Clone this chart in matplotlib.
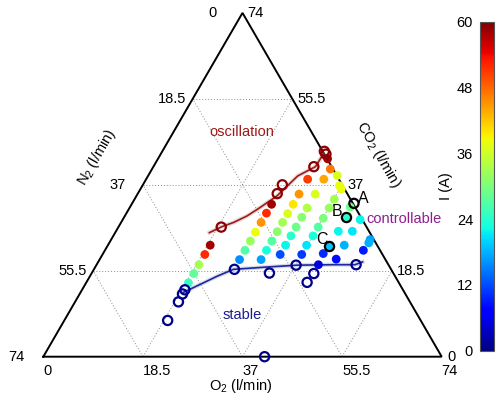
import numpy as np
import matplotlib

matplotlib.use("Agg")
import matplotlib.pyplot as plt

plt.rcParams["font.family"] = ["Liberation Sans", "DejaVu Sans"]
plt.rcParams["mathtext.fontset"] = "custom"
plt.rcParams["mathtext.rm"] = "Liberation Sans"
plt.rcParams["font.size"] = 10.5

TOTAL = 74.0

# operating points: O2 and CO2 flow (l/min), N2 is the rest; colour = current I (A)
o2_pts = [19.0, 19.0, 19.0, 19.0, 19.0,
          26.0, 26.0, 26.0, 26.0, 26.0, 26.0, 26.0,
          30.0, 30.0, 30.0, 30.0, 30.0, 30.0, 30.0, 30.0, 30.0,
          33.0, 33.0, 33.0, 33.0, 33.0, 33.0, 33.0, 33.0,
          37.1, 37.1, 37.1, 37.1, 37.1, 36.9, 37.0,
          41.2, 41.3, 41.2, 40.9, 41.2,
          44.1, 43.9, 43.9, 43.9,
          48.1, 48.2, 48.0,
          31.5, 33.1, 35.1, 36.6, 37.3, 40.9]
co2_pts = [24.0, 22.0, 19.8, 17.9, 15.9,
           32.8, 30.9, 28.9, 26.8, 24.9, 22.9, 20.9,
           38.2, 35.0, 32.8, 30.8, 28.9, 26.9, 24.9, 22.9, 20.9,
           38.2, 35.0, 32.0, 30.0, 27.9, 26.0, 24.0, 22.0,
           33.9, 32.0, 29.8, 27.9, 26.0, 24.0, 22.0,
           30.0, 27.0, 23.9, 22.2, 19.8,
           29.5, 27.0, 24.0, 21.0,
           25.2, 24.5, 22.9,
           42.6, 40.4, 39.0, 36.8, 36.1, 32.2]
current = [58, 52, 33, 28, 25,
           58, 52, 45, 38, 32, 27, 16,
           51, 45, 40, 37, 33, 31, 27, 23, 17,
           44, 37, 34, 31, 29, 24, 22, 12,
           33, 32, 30, 27, 23, 21, 11,
           24, 22, 19, 10, 5,
           22, 21, 18, 8,
           17, 18, 9,
           58, 47, 37, 38, 38, 29]

# boundary measurements (open circles)
osc_o2 = [19.1, 25.9, 25.9, 29.8, 30.1, 30.7]
osc_co2 = [27.9, 35.1, 37.0, 40.9, 44.2, 43.6]
stab_o2 = [19.1, 19.1, 19.2, 19.2, 26.1, 33.0, 37.1, 41.3, 41.0, 48.2, 41.1]
stab_co2 = [13.5, 14.4, 11.8, 7.8, 18.8, 18.0, 19.7, 17.9, 16.0, 19.8, 0.0]

# boundary curves
osc_line_o2 = [17.5, 19.2, 20.9, 22.7, 24.2, 26.1, 27.8, 30.1, 30.2]
osc_line_co2 = [26.7, 28.0, 28.9, 30.3, 32.1, 34.6, 38.9, 40.9, 43.6]
stab_line_o2 = [19.1, 21.8, 23.6, 25.9, 31.9, 37.3, 44.0, 48.0, 49.1]
stab_line_co2 = [13.85, 15.9, 17.3, 18.8, 19.3, 19.7, 19.8, 19.8, 20.4]

# highlighted points A, B, C
abc_labels = ["A", "B", "C"]
abc_o2 = [41.2, 41.2, 41.2]
abc_co2 = [33.0, 30.0, 23.9]
abc_current = [None, 24, 19]

grid_vals = [18.5, 37.0, 55.5]
tick_vals = [0, 18.5, 37, 55.5, 74]
tick_labels = ["0", "18.5", "37", "55.5", "74"]
left_gaps = [0.064, 0.016, 0.044, 0.016, 0.046]


def tern(o2, co2):
    o = np.asarray(o2, dtype=float) / TOTAL
    c = np.asarray(co2, dtype=float) / TOTAL
    return o + c / 2, c * np.sqrt(3) / 2


fig = plt.figure(figsize=(4.97, 4.01), dpi=100)
ax = fig.add_axes([0, 0, 1, 1])
ax.set_xlim(-0.1087, 1.1388)
ax.set_ylim(-0.1116, 0.8985)
ax.axis("off")

# dotted grid
for v in grid_vals:
    for a, b in [((0, v), (TOTAL - v, v)),
                 ((v, 0), (v, TOTAL - v)),
                 ((TOTAL - v, 0), (0, TOTAL - v))]:
        xs, ys = tern([a[0], b[0]], [a[1], b[1]])
        ax.plot(xs, ys, color="#8c8c8c", ls=(0, (1, 2)), lw=0.7, zorder=1)

# triangle
tx, ty = tern([0, TOTAL, 0, 0], [0, 0, TOTAL, 0])
ax.plot(tx, ty, color="k", lw=1.4, zorder=2, solid_joinstyle="miter")

# tick labels
for v, lab, gap in zip(tick_vals, tick_labels, left_gaps):
    # N2 on the left side
    x, y = tern(0, TOTAL - v)
    ax.text(x - gap, y, lab, ha="right", va="center")
    # O2 along the bottom
    x, y = tern(v, 0)
    ax.text(x, y - 0.036, lab, ha="left", va="center")
    # CO2 on the right side
    x, y = tern(TOTAL - v, v)
    ax.text(x + 0.013, y, lab, ha="left", va="center")

ax.text(0.134, 0.502, "N$_2$ (l/min)", rotation=60, ha="center", va="center")
ax.text(0.840, 0.508, "CO$_2$ (l/min)", rotation=-60, ha="center", va="center")
ax.text(0.4957, -0.074, "O$_2$ (l/min)", ha="center", va="center")

# boundary curves
lx, ly = tern(osc_line_o2, osc_line_co2)
ax.plot(lx, ly, color="#c89090", lw=3, alpha=0.35, zorder=3)
ax.plot(lx, ly, color="#9b1c1c", lw=1.2, zorder=3)
lx, ly = tern(stab_line_o2, stab_line_co2)
ax.plot(lx, ly, color="#9098c8", lw=3, alpha=0.35, zorder=3)
ax.plot(lx, ly, color="#1a2a9a", lw=1.2, zorder=3)

# operating points
px, py = tern(o2_pts, co2_pts)
sc = ax.scatter(px, py, c=current, cmap="jet", vmin=0, vmax=60, s=40,
                edgecolors="none", zorder=4)

ox, oy = tern(osc_o2, osc_co2)
ax.scatter(ox, oy, s=44, facecolors="none", edgecolors="#8b0000", linewidths=1.6, zorder=5)
sx, sy = tern(stab_o2, stab_co2)
ax.scatter(sx, sy, s=44, facecolors="none", edgecolors="#00008b", linewidths=1.6, zorder=5)

cmap = plt.get_cmap("jet")
bx, by = tern(abc_o2, abc_co2)
for x, y, cur in zip(bx, by, abc_current):
    face = "none" if cur is None else [cmap(cur / 60)]
    ax.scatter([x], [y], s=44, facecolors=face, edgecolors="k", linewidths=1.6, zorder=6)

ax.text(0.803, 0.399, "A", ha="center", va="center", fontsize=11.5)
ax.text(0.738, 0.367, "B", ha="center", va="center", fontsize=11.5)
ax.text(0.699, 0.296, "C", ha="center", va="center", fontsize=11.5)

ax.text(0.498, 0.565, "oscillation", color="#a01818", ha="center", va="center")
ax.text(0.498, 0.105, "stable", color="#1c1c90", ha="center", va="center")
ax.text(0.905, 0.347, "controllable", color="#8e1e8e", ha="center", va="center")

# colour bar
cax = fig.add_axes([0.9658, 0.1254, 0.0288, 0.8204])
cb = fig.colorbar(sc, cax=cax, ticks=[0, 12, 24, 36, 48, 60])
cb.ax.yaxis.set_ticks_position("left")
cb.ax.yaxis.set_label_position("left")
cb.ax.tick_params(length=0, pad=5, labelsize=10.5)
cb.set_label("I (A)", labelpad=3)
cb.outline.set_edgecolor("#555555")
cb.outline.set_linewidth(0.8)

fig.savefig("out.png", dpi=100)
